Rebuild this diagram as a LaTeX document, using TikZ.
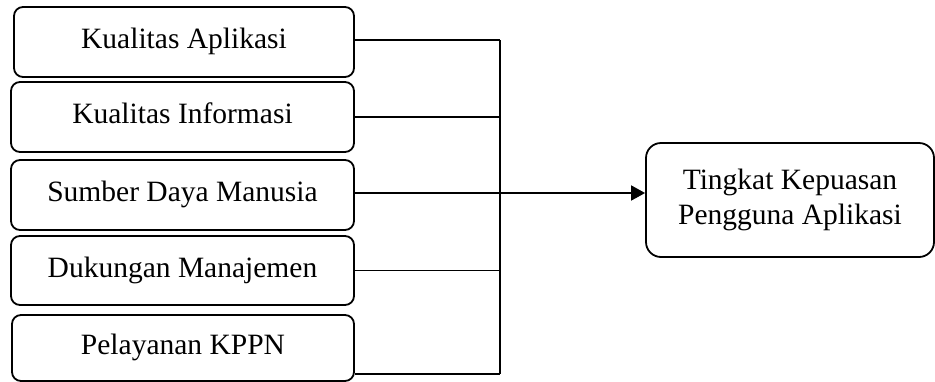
\documentclass[tikz,border=0pt]{standalone}
\usepackage{fontspec}
\setmainfont{Liberation Serif}
\usetikzlibrary{arrows.meta}
\begin{document}
\begin{tikzpicture}[x=1pt,y=-1pt,
  box/.style={draw, line width=1.8pt, rounded corners=9pt, inner sep=0pt,
    font=\fontsize{29.5}{35}\selectfont, text height=20.5pt, text depth=7pt},
  bigbox/.style={draw, line width=1.8pt, rounded corners=15pt, inner sep=0pt,
    align=center, font=\fontsize{29.5}{35}\selectfont},
  conn/.style={line width=1.8pt}]
\useasboundingbox (0,0) rectangle (935,381);
\node[box, minimum width=340, minimum height=70] (b1) at (184,42) {Kualitas Aplikasi};
\node[box, minimum width=343, minimum height=70] (b2) at (182.5,117) {Kualitas Informasi};
\node[box, minimum width=343, minimum height=70] (b3) at (182.5,195) {Sumber Daya Manusia};
\node[box, minimum width=343, minimum height=69] (b4) at (182.5,270.5) {Dukungan Manajemen};
\node[box, minimum width=342, minimum height=66] (b5) at (183,348) {Pelayanan KPPN};
\node[bigbox, minimum width=288, minimum height=114] (t) at (790,200) {Tingkat Kepuasan\\Pengguna Aplikasi};
\coordinate (bt) at (500,40);
\coordinate (bb) at (500,374);
\coordinate (mid) at (500,193);
\draw[conn] (bt) -- (bb);
\draw[conn] (b1.east |- bt) -- (bt);
\draw[conn] (b2.east) -- (b2.east -| bt);
\draw[conn] (b4.east) -- (b4.east -| bt);
\draw[conn] (b5.east |- bb) -- (bb);
\draw[conn, -{Triangle[length=14pt,width=15pt]}] (b3.east |- mid) -- (t.west |- mid);
\end{tikzpicture}
\end{document}
